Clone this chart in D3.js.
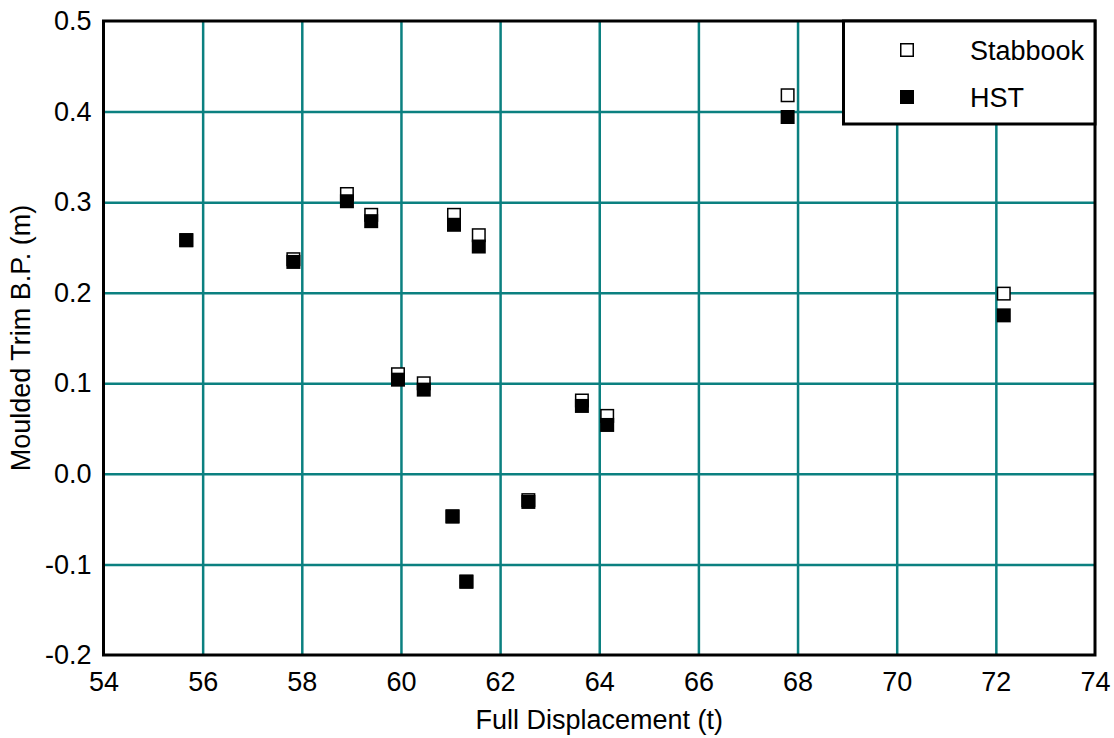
<!DOCTYPE html>
<html>
<head>
<meta charset="utf-8">
<script src="https://cdn.jsdelivr.net/npm/d3@7"></script>
<style>
  html, body { margin: 0; padding: 0; background: #fff; }
  svg { display: block; }
  text { font-family: "Liberation Sans", Arial, sans-serif; fill: #000; }
</style>
</head>
<body>
<svg id="chart" width="1114" height="738"></svg>
<script>
// Data
const displacement = [55.67, 57.83, 58.91, 59.40, 59.94, 60.46, 61.04, 61.32, 61.07, 61.57, 62.57, 63.65, 64.16, 67.80, 72.16];
const trimStabbook = [0.258, 0.237, 0.309, 0.286, 0.110, 0.100, -0.047, -0.119, 0.286, 0.2635, -0.029, 0.081, 0.064, 0.418, 0.199];
const trimHST      = [0.258, 0.234, 0.301, 0.279, 0.104, 0.093, -0.047, -0.119, 0.275, 0.251, -0.031, 0.075, 0.054, 0.394, 0.175];
const xTicks = [54, 56, 58, 60, 62, 64, 66, 68, 70, 72, 74];
const yTicks = [-0.2, -0.1, 0.0, 0.1, 0.2, 0.3, 0.4, 0.5];
const seriesNames = ["Stabbook", "HST"];
const xTitle = "Full Displacement (t)";
const yTitle = "Moulded Trim B.P. (m)";

(function () {
const svg = d3.select("#chart");
const pL = 103.5, pR = 1095, pT = 21, pB = 655;
const x = d3.scaleLinear().domain([54, 74]).range([pL, pR]);
const y = d3.scaleLinear().domain([-0.2, 0.5]).range([pB, pT]);
const grid = "#0b8080";
const fs = 27;
const fmtY = d => (Math.abs(d) < 1e-9 ? 0 : d).toFixed(1);

// grid lines
svg.append("g")
  .attr("transform", `translate(0,${pB})`)
  .call(d3.axisBottom(x).tickValues(xTicks.slice(1, -1)).tickSize(-(pB - pT)).tickFormat(""))
  .call(g => g.select(".domain").remove())
  .call(g => g.selectAll("line").attr("stroke", grid).attr("stroke-width", 2.5));
svg.append("g")
  .attr("transform", `translate(${pL},0)`)
  .call(d3.axisLeft(y).tickValues(yTicks.slice(1, -1)).tickSize(-(pR - pL)).tickFormat(""))
  .call(g => g.select(".domain").remove())
  .call(g => g.selectAll("line").attr("stroke", grid).attr("stroke-width", 2.5));

// tick labels
const xAxis = svg.append("g")
  .attr("transform", `translate(0,${pB})`)
  .call(d3.axisBottom(x).tickValues(xTicks).tickSize(0).tickPadding(17).tickFormat(d => String(d)));
xAxis.select(".domain").remove();
xAxis.attr("font-family", null).attr("font-size", null);
xAxis.selectAll("text").style("font-size", fs + "px");

const yAxis = svg.append("g")
  .attr("transform", `translate(${pL},0)`)
  .call(d3.axisLeft(y).tickValues(yTicks).tickSize(0).tickPadding(12).tickFormat(fmtY));
yAxis.select(".domain").remove();
yAxis.attr("font-family", null).attr("font-size", null);
yAxis.selectAll("text").style("font-size", fs + "px");

// frame
svg.append("rect")
  .attr("x", pL).attr("y", pT)
  .attr("width", pR - pL).attr("height", pB - pT)
  .attr("fill", "none").attr("stroke", "#000").attr("stroke-width", 3);

// markers
const ms = 14;
const ptsS = displacement.map((d, i) => [d, trimStabbook[i]]);
const ptsH = displacement.map((d, i) => [d, trimHST[i]]);
svg.append("g").selectAll("rect").data(ptsS).join("rect")
  .attr("x", d => x(d[0]) - ms / 2 + 0.75).attr("y", d => y(d[1]) - ms / 2 + 0.75)
  .attr("width", ms - 1.5).attr("height", ms - 1.5)
  .attr("fill", "#fff").attr("stroke", "#000").attr("stroke-width", 1.5);
svg.append("g").selectAll("rect").data(ptsH).join("rect")
  .attr("x", d => x(d[0]) - ms / 2).attr("y", d => y(d[1]) - ms / 2)
  .attr("width", ms).attr("height", ms)
  .attr("fill", "#000");

// axis titles
svg.append("text")
  .attr("x", (pL + pR) / 2).attr("y", 729)
  .attr("text-anchor", "middle").style("font-size", fs + "px")
  .text(xTitle);
svg.append("text")
  .attr("transform", `translate(30,${(pT + pB) / 2}) rotate(-90)`)
  .attr("text-anchor", "middle").style("font-size", fs + "px")
  .text(yTitle);

// legend
const lg = svg.append("g");
lg.append("rect")
  .attr("x", 843.5).attr("y", pT).attr("width", pR - 843.5).attr("height", 103)
  .attr("fill", "#fff").attr("stroke", "#000").attr("stroke-width", 3);
const legY = [50, 97];
lg.append("rect")
  .attr("x", 907 - ms / 2 + 0.75).attr("y", legY[0] - ms / 2 + 0.75)
  .attr("width", ms - 1.5).attr("height", ms - 1.5)
  .attr("fill", "#fff").attr("stroke", "#000").attr("stroke-width", 1.5);
lg.append("rect")
  .attr("x", 907 - ms / 2).attr("y", legY[1] - ms / 2)
  .attr("width", ms).attr("height", ms).attr("fill", "#000");
seriesNames.forEach((name, i) => {
  lg.append("text")
    .attr("x", 970).attr("y", legY[i] + 9.5)
    .style("font-size", fs + "px")
    .text(name);
});
})();
</script>
</body>
</html>
